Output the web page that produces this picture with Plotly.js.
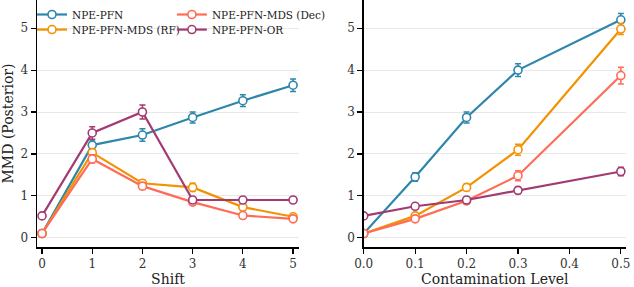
<!DOCTYPE html>
<html><head><meta charset="utf-8">
<script src="https://cdn.plot.ly/plotly-3.0.1.min.js"></script>
<style>html,body{margin:0;padding:0;background:#fff}</style>
</head><body><div id="chart" style="width:634px;height:287px"></div>
<script>
const shiftX = [0, 1, 2, 3, 4, 5];
const contamX = [0.0, 0.1, 0.2, 0.3, 0.5];
const names = ["NPE-PFN", "NPE-PFN-MDS (RF)", "NPE-PFN-MDS (Dec)", "NPE-PFN-OR"];
const colors = ["#2E86AB", "#F39200", "#FF6B55", "#A23B72"];
// Shift panel
const shiftPFN = [0.10, 2.21, 2.45, 2.87, 3.27, 3.64];
const shiftPFNErr = [0.05, 0.12, 0.15, 0.13, 0.14, 0.15];
const shiftRF = [0.10, 2.03, 1.30, 1.20, 0.73, 0.50];
const shiftRFErr = [0.05, 0.08, 0.08, 0.10, 0.07, 0.06];
const shiftDec = [0.10, 1.88, 1.23, 0.85, 0.53, 0.45];
const shiftDecErr = [0.05, 0.10, 0.08, 0.06, 0.05, 0.05];
const shiftOR = [0.52, 2.50, 3.00, 0.90, 0.90, 0.90];
const shiftORErr = [0.05, 0.15, 0.17, 0.06, 0.05, 0.05];
// Contamination panel
const contPFN = [0.10, 1.45, 2.87, 4.00, 5.20];
const contPFNErr = [0.05, 0.10, 0.13, 0.15, 0.15];
const contRF = [0.10, 0.52, 1.20, 2.10, 4.98];
const contRFErr = [0.05, 0.06, 0.08, 0.13, 0.13];
const contDec = [0.10, 0.45, 0.88, 1.48, 3.87];
const contDecErr = [0.05, 0.06, 0.07, 0.12, 0.20];
const contOR = [0.52, 0.75, 0.90, 1.13, 1.58];
const contORErr = [0.05, 0.07, 0.06, 0.08, 0.10];

const shiftY = [shiftPFN, shiftRF, shiftDec, shiftOR];
const shiftE = [shiftPFNErr, shiftRFErr, shiftDecErr, shiftORErr];
const contY = [contPFN, contRF, contDec, contOR];
const contE = [contPFNErr, contRFErr, contDecErr, contORErr];
const legendOf = ["legend", "legend2", "legend3", "legend4"];

function tr(x, y, e, i, xa, ya, show) {
  return {
    x: x, y: y, type: "scatter", mode: "lines+markers", name: names[i],
    xaxis: xa, yaxis: ya, showlegend: show, legend: legendOf[i],
    line: {color: colors[i], width: 2.2},
    marker: {symbol: "circle", size: 8, color: "#fff", line: {color: colors[i], width: 1.6}},
    error_y: {type: "data", array: e, visible: true, color: colors[i], thickness: 1.5, width: 3}
  };
}
const data = [];
for (let i = 0; i < 4; i++) data.push(tr(shiftX, shiftY[i], shiftE[i], i, "x", "y", true));
for (let i = 0; i < 4; i++) data.push(tr(contamX, contY[i], contE[i], i, "x2", "y2", false));

const SERIF = "DejaVu Serif, serif";
const titleFont = {family: SERIF, size: 14, color: "#222"};
const axCommon = {
  showline: true, linecolor: "#000", linewidth: 1.5, ticks: "outside", ticklen: 5,
  tickcolor: "#000", tickwidth: 1.2, zeroline: false, tickfont: {family: SERIF, size: 12, color: "#333"}
};
const legFont = {family: SERIF, size: 10.5, color: "#222"};
function leg(x, y) {
  return {x: x, y: y, xanchor: "left", yanchor: "top", bgcolor: "rgba(255,255,255,0)", font: legFont, itemwidth: 30};
}
const layout = {
  width: 634, height: 287, margin: {l: 37, r: 8, t: 0, b: 40},
  paper_bgcolor: "#fff", plot_bgcolor: "#fff", font: {family: SERIF, size: 12, color: "#333"},
  xaxis: Object.assign({}, axCommon, {domain: [0, 0.445], range: [-0.1, 5.12], tickvals: shiftX, showgrid: false,
    title: {text: "Shift", font: titleFont, standoff: 4}}),
  yaxis: Object.assign({}, axCommon, {range: [-0.222, 5.673], tickvals: [0,1,2,3,4,5], showgrid: true, gridcolor: "#e8e8e8", gridwidth: 1,
    title: {text: "MMD (Posterior)", font: titleFont, standoff: 6}}),
  xaxis2: Object.assign({}, axCommon, {domain: [0.5547, 1], anchor: "y2", range: [0, 0.51], tickvals: [0,0.1,0.2,0.3,0.4,0.5],
    ticktext: ["0.0","0.1","0.2","0.3","0.4","0.5"], showgrid: false,
    title: {text: "Contamination Level", font: titleFont, standoff: 4}}),
  yaxis2: Object.assign({}, axCommon, {anchor: "x2", range: [-0.222, 5.673], tickvals: [0,1,2,3,4,5], showgrid: true, gridcolor: "#e8e8e8", gridwidth: 1}),
  legend: leg(-0.0085, 1.0),
  legend2: leg(-0.0085, 0.939),
  legend3: leg(0.229, 1.0),
  legend4: leg(0.229, 0.939)
};
Plotly.newPlot("chart", data, layout, {displayModeBar: false, staticPlot: true});
</script></body></html>
